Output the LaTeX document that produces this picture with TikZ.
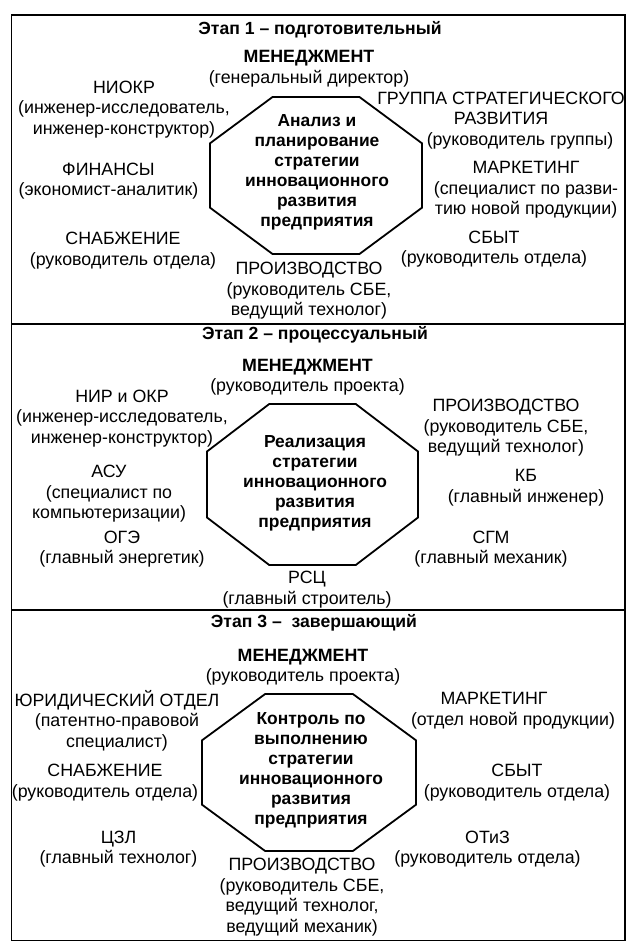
\documentclass[tikz,border=0pt]{standalone}
\usepackage{fontspec}
\setmainfont{Liberation Sans}
\usetikzlibrary{calc}

% octagon round a centre: #1 centre, #2 half width, #3 half height
\newcommand{\octagon}[3]{%
  \draw[frame] ($(#1)+(-0.41*#2,-#3)$) -- ($(#1)+(0.41*#2,-#3)$)
    -- ($(#1)+(#2,-0.41*#3)$) -- ($(#1)+(#2,0.41*#3)$)
    -- ($(#1)+(0.41*#2,#3)$) -- ($(#1)+(-0.41*#2,#3)$)
    -- ($(#1)+(-#2,0.41*#3)$) -- ($(#1)+(-#2,-0.41*#3)$) -- cycle;}

\begin{document}
\begin{tikzpicture}[x=1pt, y=-1pt,
    frame/.style={line width=1.8pt, line join=miter},
    lbl/.style={align=center, inner sep=0pt, font=\fontsize{17.8}{20.5}\selectfont},
    head/.style={lbl, font=\fontsize{17.6}{20.5}\selectfont\bfseries},
    goal/.style={lbl, font=\fontsize{17.4}{20}\selectfont\bfseries}]
  \useasboundingbox (0,0) rectangle (633,949);
  \coordinate (TL) at (11.5,14.7);
  \coordinate (BR) at (625,940.5);
  \coordinate (L1) at (11.5,324);
  \coordinate (R1) at (625,324);
  \coordinate (L2) at (11.5,610);
  \coordinate (R2) at (625,610);
  \draw[frame] (TL) rectangle (BR);
  \draw[frame] (L1) -- (R1);
  \draw[frame] (L2) -- (R2);

  % stage 1
  \coordinate (O1) at (316,175.5);
  \octagon{O1}{106}{78.5}
  \node[head] (title1) at (320,30) {Этап 1 – подготовительный};
  \node[goal] (goal1) at (317,172) {Анализ и\\планирование\\стратегии\\инновационного\\развития\\предприятия};
  \node[lbl] (man1) at (309,68.5) {\textbf{МЕНЕДЖМЕНТ}\\(генеральный директор)};
  \node[lbl] (niokr) at (124,109.5) {НИОКР\\(инженер-исследователь,\\инженер-конструктор)};
  \node[lbl] (gsr) at (501,120.5) {ГРУППА СТРАТЕГИЧЕСКОГО\\РАЗВИТИЯ\hspace*{26pt}\\\hspace*{38pt}(руководитель группы)};
  \node[lbl] (fin) at (108.5,181) {ФИНАНСЫ\\(экономист-аналитик)};
  \node[lbl] (mark1) at (526,190) {МАРКЕТИНГ\\(специалист по разви-\\тию новой продукции)};
  \node[lbl] (snab1) at (123,250.5) {СНАБЖЕНИЕ\\(руководитель отдела)};
  \node[lbl] (sbyt1) at (494,249) {СБЫТ\\(руководитель отдела)};
  \node[lbl] (prod1) at (309,291) {ПРОИЗВОДСТВО\\(руководитель СБЕ,\\ведущий технолог)};

  % stage 2
  \coordinate (O2) at (312.5,484.5);
  \octagon{O2}{105.5}{80.5}
  \node[head] (title2) at (315,335) {Этап 2 – процессуальный};
  \node[goal] (goal2) at (315,483) {Реализация\\стратегии\\инновационного\\развития\\предприятия};
  \node[lbl] (man2) at (307.5,377) {\textbf{МЕНЕДЖМЕНТ}\\(руководитель проекта)};
  \node[lbl] (nir) at (122,418.5) {НИР и ОКР\\(инженер-исследователь,\\инженер-конструктор)};
  \node[lbl] (prod2) at (506,428) {ПРОИЗВОДСТВО\\(руководитель СБЕ,\\ведущий технолог)};
  \node[lbl] (asu) at (109,494) {АСУ\\(специалист по\\компьютеризации)};
  \node[lbl] (kb) at (526,487.5) {КБ\\(главный инженер)};
  \node[lbl] (oge) at (122,549) {ОГЭ\\(главный энергетик)};
  \node[lbl] (sgm) at (491,549) {СГМ\\(главный механик)};
  \node[lbl] (rsc) at (307,589.5) {РСЦ\\(главный строитель)};

  % stage 3
  \coordinate (O3) at (309,772.5);
  \octagon{O3}{107}{78.5}
  \node[head] (title3) at (314,623) {Этап 3 –\ \ завершающий};
  \node[goal] (goal3) at (311,770) {Контроль по\\выполнению\\стратегии\\инновационного\\развития\\предприятия};
  \node[lbl] (man3) at (303,667) {\textbf{МЕНЕДЖМЕНТ}\\(руководитель проекта)};
  \node[lbl] (jur) at (117,720.5) {ЮРИДИЧЕСКИЙ ОТДЕЛ\\(патентно-правовой\\специалист)};
  \node[lbl] (mark3) at (513,710.5) {МАРКЕТИНГ\hspace*{38pt}\\(отдел новой продукции)};
  \node[lbl] (snab3) at (105,782.5) {СНАБЖЕНИЕ\\(руководитель отдела)};
  \node[lbl] (sbyt3) at (517,782.5) {СБЫТ\\(руководитель отдела)};
  \node[lbl] (czl) at (118.5,849) {ЦЗЛ\\(главный технолог)};
  \node[lbl] (otiz) at (487.5,849) {ОТиЗ\\(руководитель отдела)};
  \node[lbl] (prod3) at (302,897) {ПРОИЗВОДСТВО\\(руководитель СБЕ,\\ведущий технолог,\\ведущий механик)};
\end{tikzpicture}
\end{document}
